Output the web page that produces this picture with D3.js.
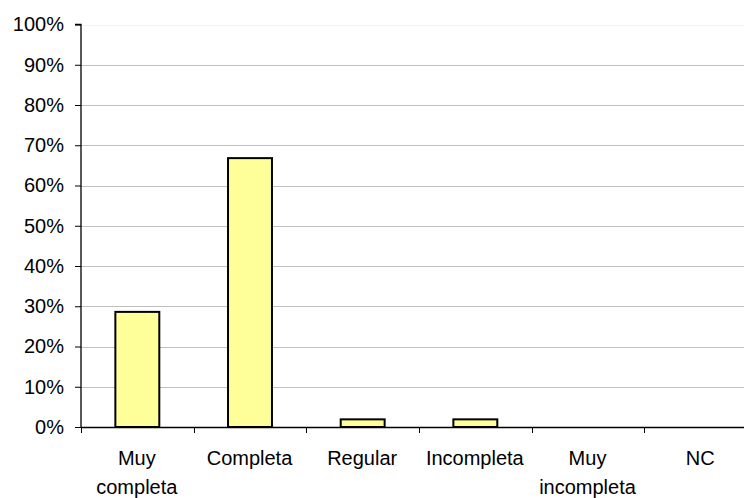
<!DOCTYPE html>
<html><head><meta charset="utf-8">
<script src="https://cdn.jsdelivr.net/npm/d3@7"></script>
<style>body{margin:0;background:#fff;} svg{display:block;}</style>
</head><body>
<svg id="c" width="744" height="498"></svg>
<script>
const categories = [["Muy","completa"],["Completa"],["Regular"],["Incompleta"],["Muy","incompleta"],["NC"]];
const values = [0.286, 0.668, 0.019, 0.019, 0, 0];
const yTicks = [0,0.1,0.2,0.3,0.4,0.5,0.6,0.7,0.8,0.9,1.0];

const svg = d3.select("#c");
const x0 = 81, x1 = 757, yTop = 24.5, yBot = 427;
const x = d3.scaleBand().domain(d3.range(categories.length)).range([x0, x1]).paddingInner(0.61).paddingOuter(0.305);
const xb = d3.scaleBand().domain(d3.range(categories.length)).range([x0, x1]);
const y = d3.scaleLinear().domain([0,1]).range([yBot, yTop]);

// gridlines
svg.append("g").selectAll("line").data(yTicks.filter(d=>d>0)).join("line")
  .attr("x1", x0).attr("x2", 744)
  .attr("y1", d=>Math.round(y(d))+0.5).attr("y2", d=>Math.round(y(d))+0.5)
  .attr("stroke", d=> d===1 ? "#f3f3f3" : "#c0c0c0").attr("stroke-width",1);

// bars
const barData = values.map((v,i)=>({v,i})).filter(d=>d.v>0);
svg.append("g").selectAll("rect").data(barData).join("rect")
  .attr("x",d=>x(d.i))
  .attr("y",d=>y(d.v))
  .attr("width",x.bandwidth())
  .attr("height",d=>yBot-y(d.v))
  .attr("fill","#ffff99").attr("stroke","#000").attr("stroke-width",2);

// y axis
const ya = d3.axisLeft(y).tickValues(yTicks).tickFormat(d3.format(".0%")).tickSize(6).tickPadding(11);
const gy = svg.append("g").attr("transform",`translate(${x0},0)`).call(ya);
gy.select(".domain").attr("stroke","#000").attr("stroke-width",1.3).attr("d",`M-6,${yTop}H0V${yBot}`);
gy.selectAll(".tick line").attr("stroke","#000");
gy.selectAll("text").attr("font-family","Arial, 'Liberation Sans', sans-serif").attr("font-size",20).attr("fill","#000");

// x axis
const gx = svg.append("g").attr("transform",`translate(0,${yBot})`);
gx.append("line").attr("x1",x0).attr("x2",744).attr("y1",0.5).attr("y2",0.5).attr("stroke","#000").attr("stroke-width",1.3);
gx.selectAll(".xt").data(d3.range(categories.length)).join("line").attr("class","xt")
  .attr("x1",d=>Math.round(xb(d))+0.5).attr("x2",d=>Math.round(xb(d))+0.5)
  .attr("y1",0).attr("y2",6).attr("stroke","#000");
gx.selectAll(".xl").data(categories).join("text").attr("class","xl")
  .attr("text-anchor","middle")
  .attr("font-family","Arial, 'Liberation Sans', sans-serif").attr("font-size",20).attr("fill","#000")
  .each(function(lines,i){
    const t = d3.select(this);
    lines.forEach((l,j)=>{
      t.append("tspan").attr("x", xb(i)+xb.bandwidth()/2 - 0.5).attr("y", 38 + j*29).text(l);
    });
  });
</script>
</body></html>
